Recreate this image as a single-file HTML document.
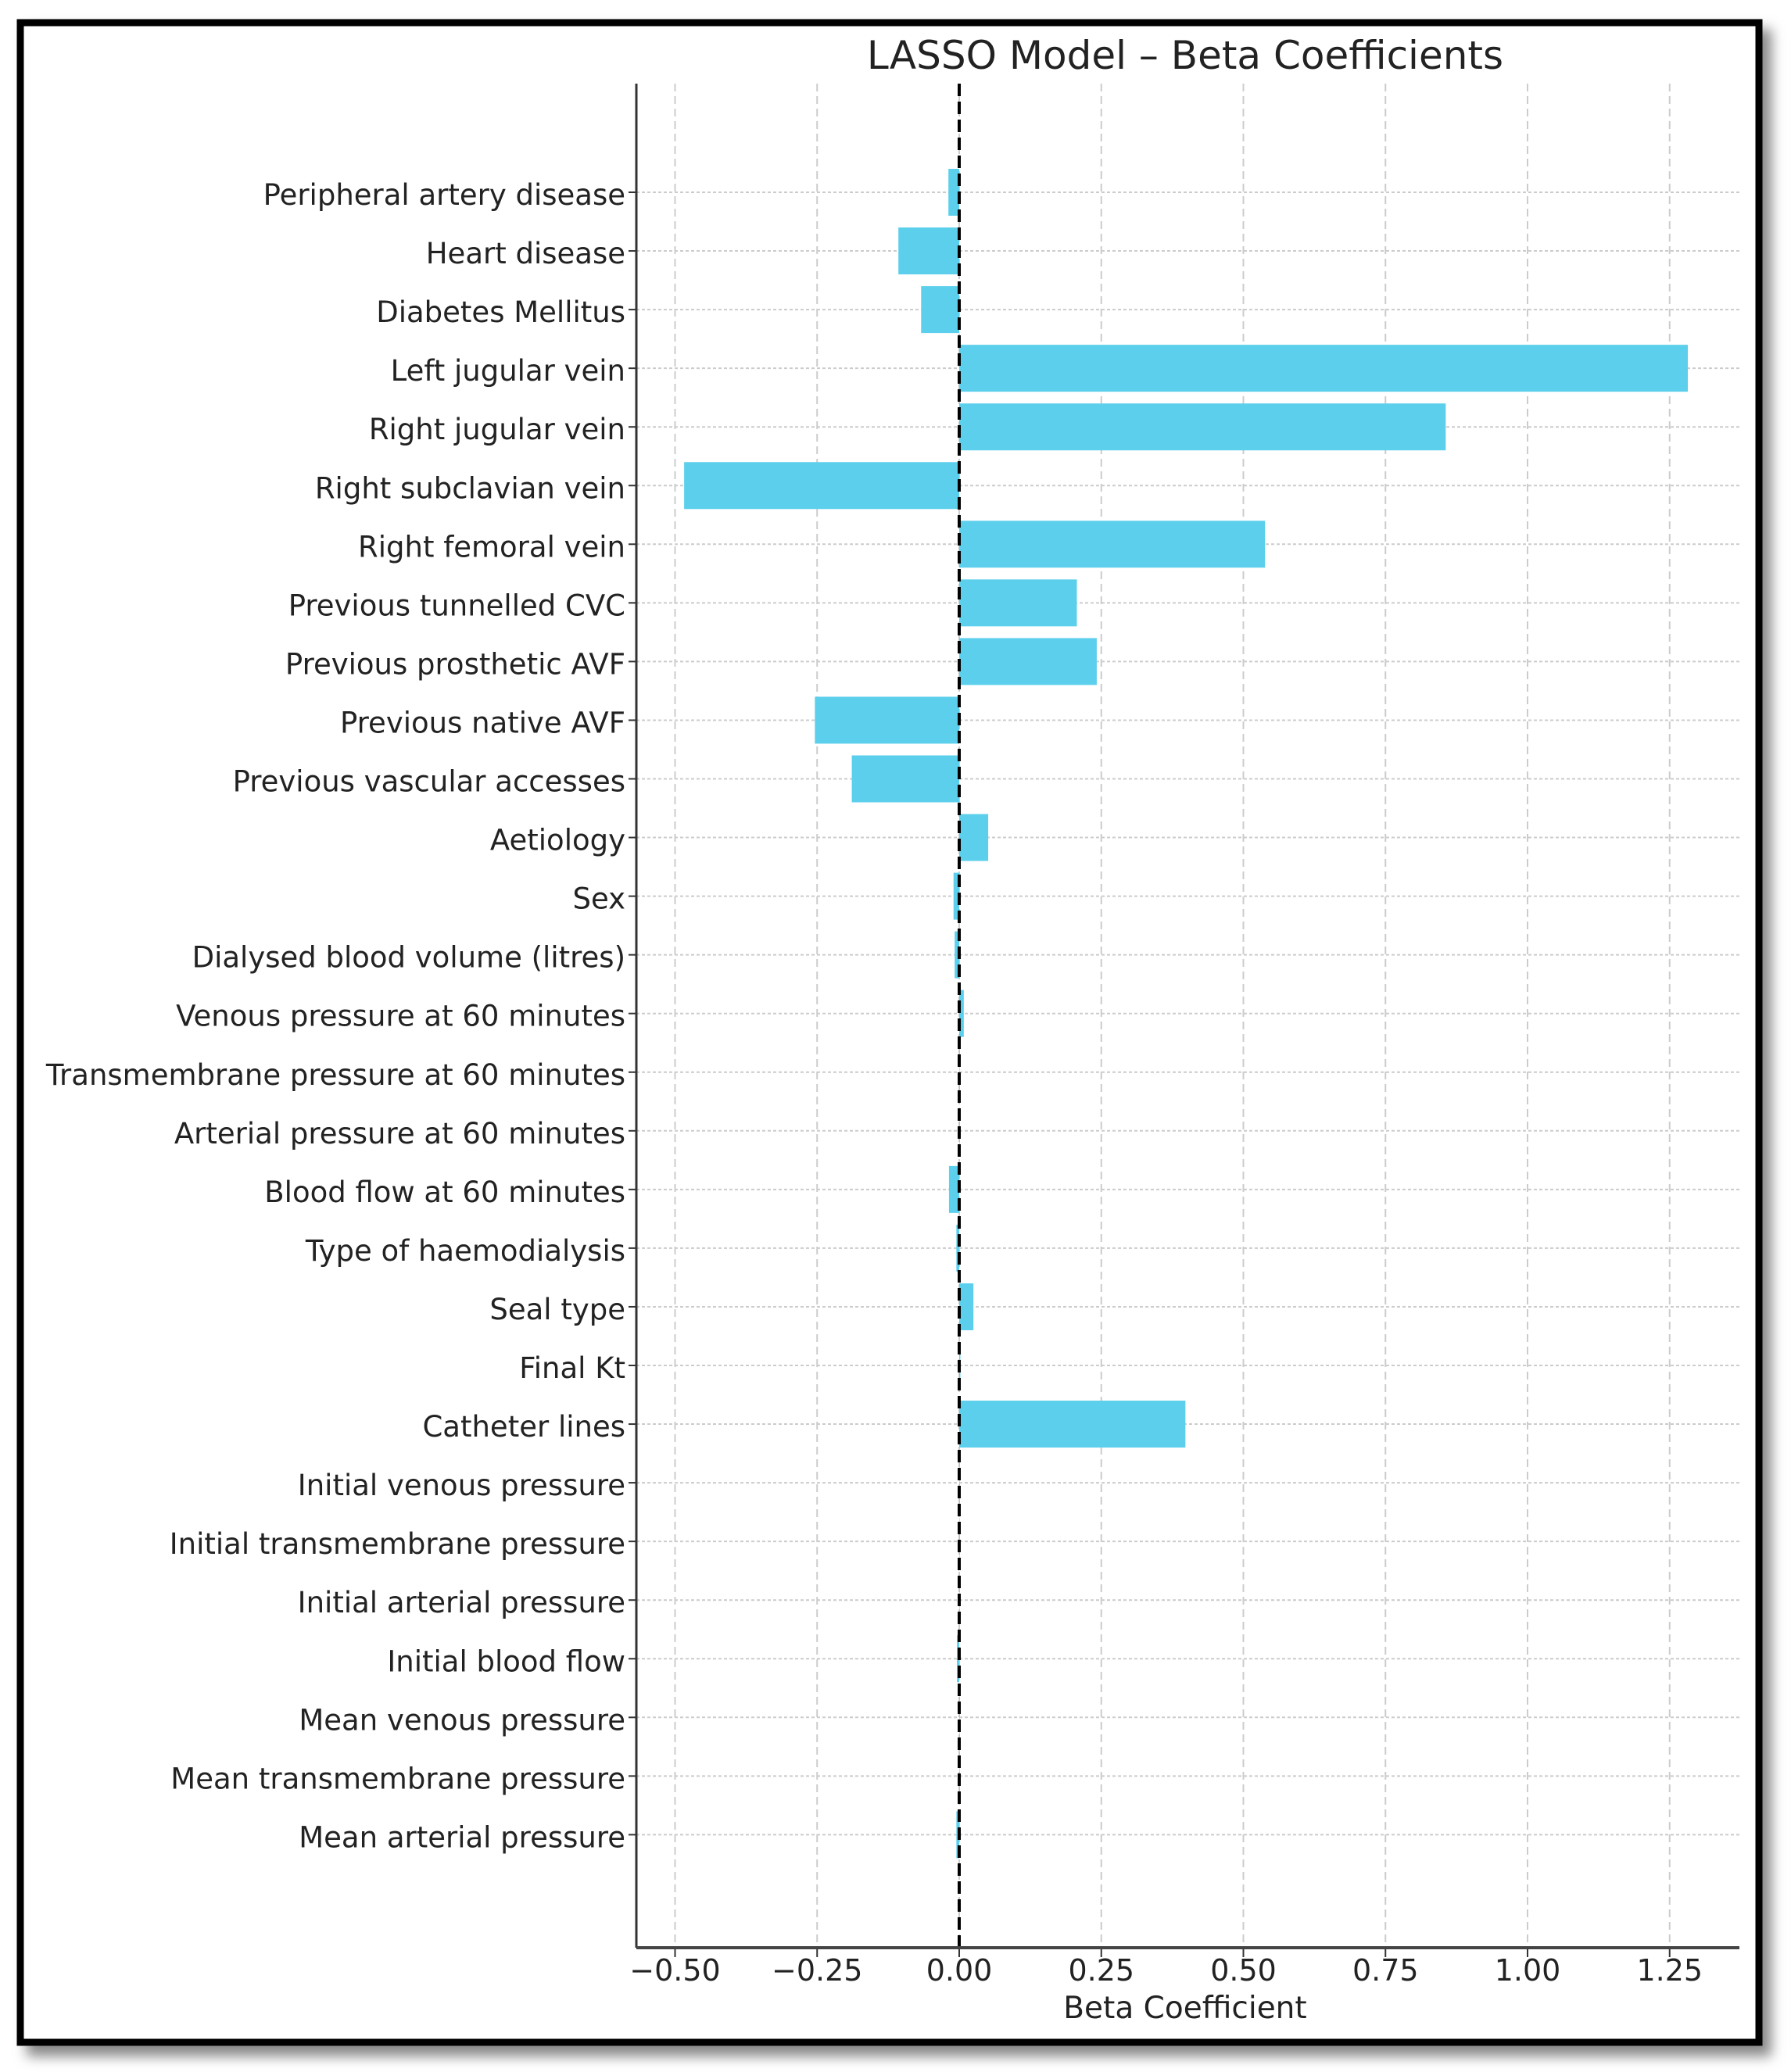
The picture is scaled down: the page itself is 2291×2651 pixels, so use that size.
<!DOCTYPE html>
<html><head><meta charset="utf-8"><style>
html,body{margin:0;padding:0;background:#fff;}
svg{display:block;font-family:"DejaVu Sans","Liberation Sans",sans-serif;}
</style></head><body>
<svg id="chart" width="2291" height="2651" viewBox="0 0 2291 2651" xmlns="http://www.w3.org/2000/svg">
<defs><filter id="sh" x="-5%" y="-5%" width="110%" height="110%"><feGaussianBlur stdDeviation="8"/></filter></defs>
<rect x="34" y="37" width="2232" height="2594" fill="#888" filter="url(#sh)"/>
<rect x="26" y="29" width="2224" height="2584" fill="#fff" stroke="#000" stroke-width="9"/>
<text x="1516" y="88" font-size="50" text-anchor="middle" fill="#222">LASSO Model – Beta Coefficients</text>
<g id="plot"></g>
<text x="1516" y="2582" font-size="39" text-anchor="middle" fill="#222">Beta Coefficient</text>
</svg>
<script>
const categories = ["Peripheral artery disease","Heart disease","Diabetes Mellitus","Left jugular vein","Right jugular vein","Right subclavian vein","Right femoral vein","Previous tunnelled CVC","Previous prosthetic AVF","Previous native AVF","Previous vascular accesses","Aetiology","Sex","Dialysed blood volume (litres)","Venous pressure at 60 minutes","Transmembrane pressure at 60 minutes","Arterial pressure at 60 minutes","Blood flow at 60 minutes","Type of haemodialysis","Seal type","Final Kt","Catheter lines","Initial venous pressure","Initial transmembrane pressure","Initial arterial pressure","Initial blood flow","Mean venous pressure","Mean transmembrane pressure","Mean arterial pressure"];
const coefficients = [-0.019,-0.107,-0.067,1.282,0.856,-0.484,0.538,0.207,0.242,-0.254,-0.189,0.051,-0.010,-0.008,0.008,0,0,-0.018,-0.005,0.025,0.002,0.398,0,0,0,-0.004,0,0,-0.005];
const xTicks = [-0.5,-0.25,0,0.25,0.5,0.75,1.0,1.25];
const xTickLabels = ["−0.50","−0.25","0.00","0.25","0.50","0.75","1.00","1.25"];

const NS="http://www.w3.org/2000/svg";
const g=document.getElementById('plot');
const L=814,R=2225,T=107,B=2492;
const X=v=>1227+v*727;
const Y=i=>246+i*75.05;
const bh=60;
function mk(t,a){const e=document.createElementNS(NS,t);for(const k in a)e.setAttribute(k,a[k]);g.appendChild(e);return e;}
xTicks.forEach((v,i)=>{
  const gl=mk('line',{x1:X(v),x2:X(v),y1:T,y2:B,stroke:'#ccc','stroke-width':2,'stroke-dasharray':'10,6'});
  
  
  const tk=mk('line',{x1:X(v),x2:X(v),y1:B,y2:B+12,stroke:'#333','stroke-width':2});
  
  
  const t=mk('text',{x:X(v),y:B+42,'font-size':38,'text-anchor':'middle',fill:'#222'});
  t.textContent=xTickLabels[i];
  
  
});
categories.forEach((c,i)=>{
  const gl=mk('line',{x1:L,x2:R,y1:Y(i),y2:Y(i),stroke:'#ccc','stroke-width':2,'stroke-dasharray':'4,3'});
  
  
  const tk=mk('line',{x1:L-10,x2:L,y1:Y(i),y2:Y(i),stroke:'#333','stroke-width':2});
  
  
  const t=mk('text',{x:L-14,y:Y(i)+16,'font-size':37,'text-anchor':'end',fill:'#222'});
  t.textContent=c;
  
  
});
coefficients.forEach((v,i)=>{
  const x1=Math.min(X(0),X(v)),w=Math.abs(X(v)-X(0));
  const b=mk('rect',{x:x1,y:Y(i)-bh/2,width:Math.max(w,0.5),height:bh,fill:'#5bcfeb'});
  
  
});
const z=mk('line',{x1:X(0),x2:X(0),y1:T,y2:B,stroke:'#000','stroke-width':4,'stroke-dasharray':'16,7'});


const ls=mk('line',{x1:L,x2:L,y1:T,y2:B,stroke:'#333','stroke-width':3});


const bs=mk('line',{x1:L,x2:R,y1:B,y2:B,stroke:'#444','stroke-width':4});


</script>
</body></html>
